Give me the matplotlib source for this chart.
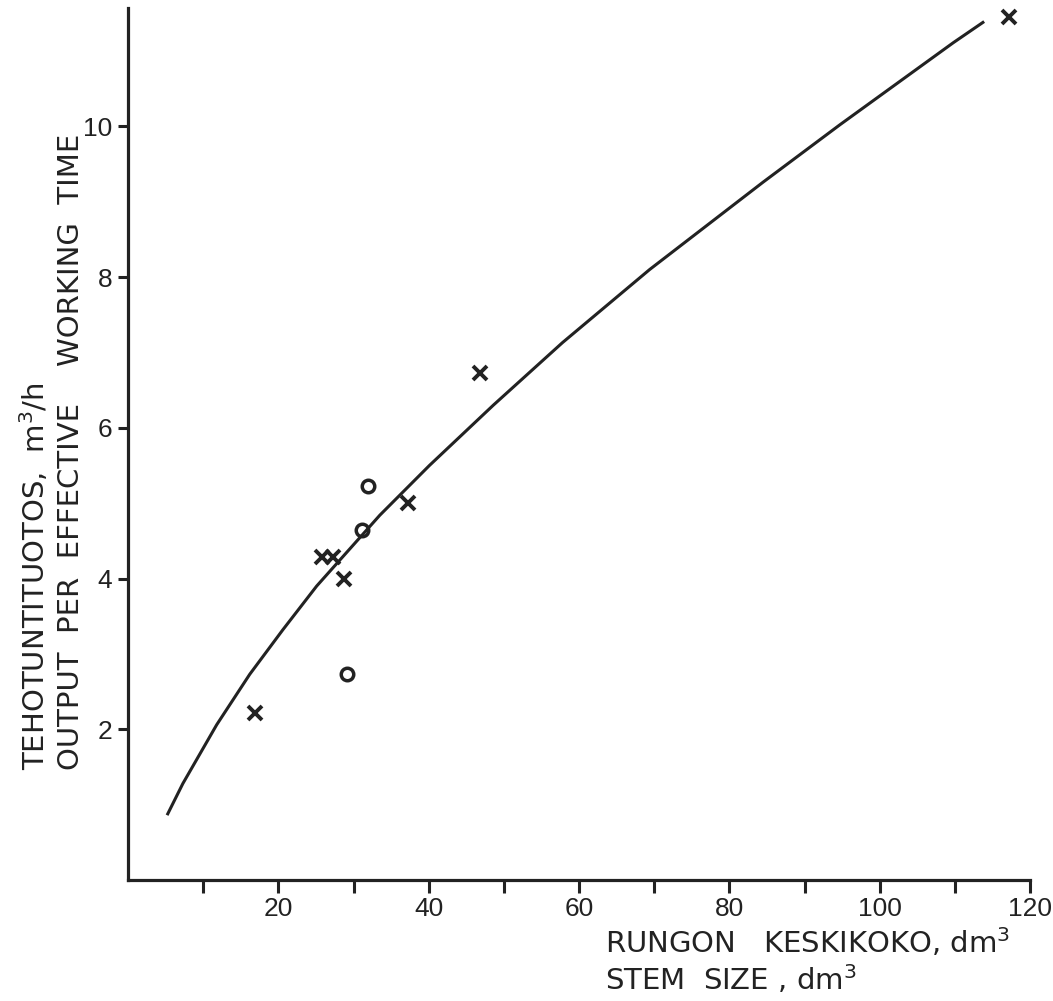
import matplotlib
matplotlib.use("Agg")
import matplotlib.pyplot as plt

plt.rcParams['font.family'] = ['Liberation Sans', 'DejaVu Sans']
plt.rcParams['mathtext.default'] = 'regular'

# Mittauspisteet (x-merkit)
x_cross = [16.9, 25.8, 27.3, 28.8, 37.2, 46.8, 117.2]
y_cross = [2.22, 4.29, 4.29, 4.00, 5.00, 6.73, 11.45]

# Mittauspisteet (o-merkit)
x_circ = [31.9, 31.1, 29.2]
y_circ = [5.23, 4.65, 2.73]

# Tasoitettu käyrä, luettu kuvasta
curve_x = [5.2, 7.3, 11.8, 16.2, 20.6, 25.1, 33.5, 40.1, 48.6, 57.8, 69.4, 84.5, 94.7, 109.8, 113.9]
curve_y = [0.86, 1.28, 2.06, 2.73, 3.32, 3.90, 4.84, 5.50, 6.30, 7.13, 8.10, 9.26, 10.02, 11.11, 11.39]

x_major = [20, 40, 60, 80, 100, 120]
x_minor = [10, 30, 50, 70, 90, 110]
y_major = [2, 4, 6, 8, 10]

ink = '#222222'

fig = plt.figure(figsize=(10.53, 10.01), dpi=100)
ax = fig.add_axes([128 / 1053, 1 - 880 / 1001, (1030 - 128) / 1053, (880 - 8) / 1001])

ax.plot(curve_x, curve_y, color=ink, lw=2.2, solid_capstyle='butt', solid_joinstyle='round')
ax.plot(x_cross, y_cross, ls='none', marker='x', ms=10, mew=2.8, color=ink)
ax.plot(x_circ, y_circ, ls='none', marker='o', ms=9, mew=2.5, mfc='none', mec=ink)

ax.set_xlim(0, 120)
ax.set_ylim(0, 11.57)

for s in ['top', 'right']:
    ax.spines[s].set_visible(False)
for s in ['left', 'bottom']:
    ax.spines[s].set_linewidth(2.3)
    ax.spines[s].set_color(ink)

ax.set_xticks(x_major)
ax.set_xticks(x_minor, minor=True)
ax.set_yticks(y_major)
ax.tick_params(axis='both', which='both', direction='out', width=2.2,
               color=ink, labelcolor=ink, labelsize=19)
ax.tick_params(axis='x', which='both', length=9, pad=3)
ax.tick_params(axis='y', length=7.5, pad=4)

# Akselien otsikot
lab = dict(family=['DejaVu Sans'], fontsize=21, color=ink)
fig.text(605 / 1053, 1 - 943 / 1001, 'RUNGON   KESKIKOKO, dm$^3$', ha='left', va='center', **lab)
fig.text(605 / 1053, 1 - 980 / 1001, 'STEM  SIZE , dm$^3$', ha='left', va='center', **lab)
fig.text(35 / 1053, 1 - 770 / 1001, 'TEHOTUNTITUOTOS,  m$^3$/h', rotation=90,
         rotation_mode='anchor', ha='left', va='center', **lab)
fig.text(71 / 1053, 1 - 770 / 1001, 'OUTPUT  PER  EFFECTIVE    WORKING  TIME', rotation=90,
         rotation_mode='anchor', ha='left', va='center', **lab)

fig.savefig('out.png', dpi=100, facecolor='white')
